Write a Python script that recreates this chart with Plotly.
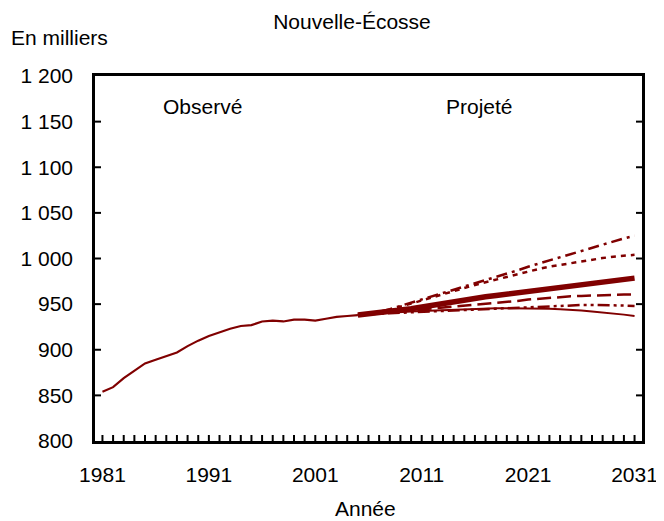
import plotly.graph_objects as go

# population, Nouvelle-Écosse, en milliers
obs_years = list(range(1981, 2006))
observed = [854, 859, 869, 877, 885, 889, 893, 897, 904, 910, 915, 919, 923, 926, 927,
            931, 932, 931, 933, 933, 932, 934, 936, 937, 938]

proj_years = list(range(2005, 2032))
medium = [938, 939, 940.5, 942, 943.5, 945, 947, 949, 951, 953, 955, 956.5, 958, 959.5,
          961, 962.5, 964, 965.5, 967, 968.5, 970, 971.5, 973, 974.5, 976, 977, 978.5]
high = [938, 939.5, 941.5, 944.5, 948, 951.5, 955, 958.5, 962, 965.5, 969, 972.5, 976, 979.5,
        983, 987, 991, 994.5, 998, 1001.5, 1005, 1008.5, 1012, 1015.5, 1019, 1022, 1025]
high2 = [938, 939.5, 941.5, 944, 947, 950.5, 954, 957.5, 961, 964.5, 968, 971, 974, 977,
         980, 983, 986, 988.5, 991, 993, 995, 997, 999, 1000.5, 1002, 1003, 1004]
low2 = [938, 939, 940, 941, 942, 943.5, 944.5, 945.5, 946.5, 947.5, 948.5, 949.5, 950.5,
        951.5, 952.5, 953.5, 955, 956, 957, 958, 958.5, 959, 959.5, 960, 960, 960.5, 960.5]
low3 = [938, 939, 939.5, 940, 940.5, 941, 942, 942.5, 943, 943.5, 944, 944.5, 945, 945.5,
        946, 946.5, 947, 947.5, 948, 948.5, 949, 949, 949, 949, 948.5, 948.5, 948]
low = [938, 938.5, 939.5, 940.5, 941.5, 942, 942.5, 943, 943.5, 944, 944.5, 945, 945.5,
       945.5, 945.5, 945.5, 945.5, 945.5, 945, 944.5, 944, 943, 942, 941, 940, 938.5, 937]

y_ticks = [800, 850, 900, 950, 1000, 1050, 1100, 1150, 1200]
y_text = ['800', '850', '900', '950', '1 000', '1 050', '1 100', '1 150', '1 200']
x_ticks = [1981, 1991, 2001, 2011, 2021, 2031]
x_minor = list(range(1981, 2032))
x_range = [1980.3, 2031.7]
y_range = [800, 1200]

red = '#800000'
font = 'Liberation Sans, Arial, sans-serif'
fs = 21

fig = go.Figure()
fig.add_trace(go.Scatter(x=obs_years, y=observed, mode='lines', line=dict(color=red, width=2.2)))
fig.add_trace(go.Scatter(x=proj_years, y=low, mode='lines', line=dict(color=red, width=2)))
fig.add_trace(go.Scatter(x=proj_years, y=low3, mode='lines',
                         line=dict(color=red, width=2.5, dash='12px,4px,3px,4px,3px,4px')))
fig.add_trace(go.Scatter(x=proj_years, y=low2, mode='lines',
                         line=dict(color=red, width=2.5, dash='14px,6px')))
fig.add_trace(go.Scatter(x=proj_years, y=high2, mode='lines',
                         line=dict(color=red, width=2.5, dash='5px,5px')))
fig.add_trace(go.Scatter(x=proj_years, y=high, mode='lines',
                         line=dict(color=red, width=2.5, dash='11px,5px,3px,5px')))
fig.add_trace(go.Scatter(x=proj_years, y=medium, mode='lines', line=dict(color=red, width=5.5)))

# inside tick marks (year comb at the bottom, 50-step ticks on both sides)
tick_line = dict(color='black', width=2)
for yr in x_minor:
    fig.add_shape(type='line', xref='x', yref='y', x0=yr, x1=yr, ysizemode='pixel',
                  yanchor=y_range[0], y0=0, y1=6, line=tick_line, layer='above')
for v in y_ticks[1:-1]:
    fig.add_shape(type='line', xref='x', yref='y', y0=v, y1=v, xsizemode='pixel',
                  xanchor=x_range[0], x0=0, x1=6, line=tick_line, layer='above')
    fig.add_shape(type='line', xref='x', yref='y', y0=v, y1=v, xsizemode='pixel',
                  xanchor=x_range[1], x0=-6, x1=0, line=tick_line, layer='above')

fig.add_annotation(x=1990.4, y=1167, text='Observé', showarrow=False, font=dict(size=fs))
fig.add_annotation(x=2016.4, y=1167, text='Projeté', showarrow=False, font=dict(size=fs))
fig.add_annotation(text='En milliers', x=-0.157, xref='paper', xanchor='left',
                   y=1.105, yref='paper', yanchor='middle', showarrow=False, font=dict(size=fs))
fig.add_annotation(text='Année', x=0.4945, xref='paper', xanchor='center',
                   y=-0.184, yref='paper', yanchor='middle', showarrow=False, font=dict(size=fs))

fig.update_layout(
    width=656, height=513,
    margin=dict(l=87, r=22, t=67.5, b=79.5),
    showlegend=False,
    plot_bgcolor='white', paper_bgcolor='white',
    font=dict(family=font, size=fs, color='black'),
    title=dict(text='Nouvelle-Écosse', x=0.5244, xanchor='center', y=0.9727, yanchor='middle',
               font=dict(size=fs)),
    xaxis=dict(
        range=x_range, tickvals=x_ticks, ticks='',
        showline=True, linecolor='black', linewidth=2.5, mirror=True,
        showgrid=False, zeroline=False, automargin=False, ticklabelstandoff=13,
        tickfont=dict(size=fs),
    ),
    yaxis=dict(
        range=y_range, tickvals=y_ticks, ticktext=y_text, ticks='',
        showline=True, linecolor='black', linewidth=2.5, mirror=True,
        showgrid=False, zeroline=False, automargin=False, ticklabelstandoff=15,
        tickfont=dict(size=fs),
    ),
)

fig.write_html('out.html')
